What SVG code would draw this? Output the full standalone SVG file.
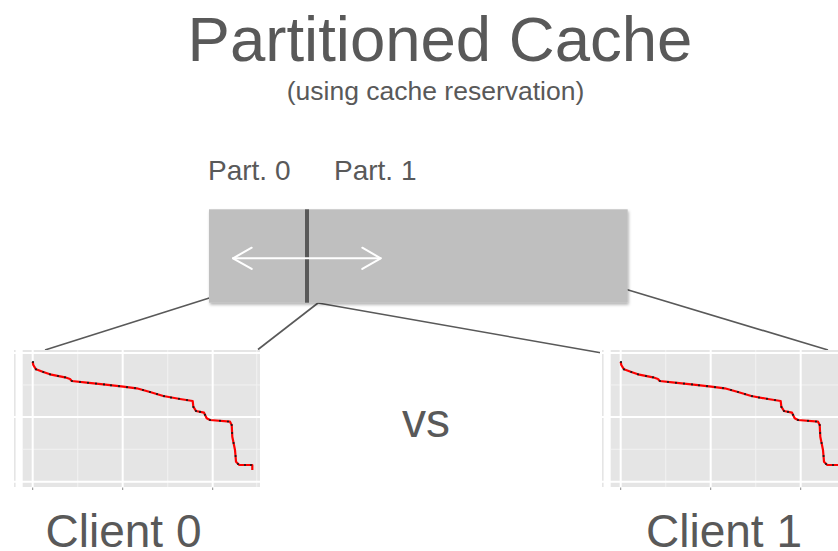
<svg xmlns="http://www.w3.org/2000/svg" xmlns:xlink="http://www.w3.org/1999/xlink" width="838" height="551" viewBox="0 0 838 551">
  <style>
    .label { font-family: "Liberation Sans", Arial, sans-serif; fill: #595959; }
    .link { stroke: #595959; stroke-width: 1.6; fill: none; }
    .panel { fill: #e5e5e5; }
    .major { stroke: #ffffff; stroke-width: 2; }
    .minor { stroke: #f2f2f2; stroke-width: 1; }
    .tick { stroke: #8c8c8c; stroke-width: 1; }
    .curve { stroke: #ff0000; stroke-width: 2.2; fill: none; stroke-linejoin: round; }
    .pt { fill: #1a1a1a; }
    .arrow { stroke: #ffffff; stroke-width: 2; fill: none; stroke-linecap: round; stroke-linejoin: round; }
  </style>
  <defs>
    <filter id="shadow" x="-5%" y="-10%" width="110%" height="125%">
      <feDropShadow dx="1" dy="2" stdDeviation="1.5" flood-color="#000000" flood-opacity="0.3"/>
    </filter>
    <!-- Miss-ratio style chart, drawn once and reused for both clients -->
    <g id="chart">
      <rect x="14" y="350" width="1.6" height="137" fill="#e5e5e5"/>
      <rect class="panel" x="22.7" y="350" width="237.3" height="137"/>
      <line class="minor" x1="22.7" y1="385" x2="260" y2="385"/>
      <line class="minor" x1="22.7" y1="449.3" x2="260" y2="449.3"/>
      <line class="minor" x1="77.7" y1="350" x2="77.7" y2="487"/>
      <line class="minor" x1="167.7" y1="350" x2="167.7" y2="487"/>
      <line class="minor" x1="256.7" y1="350" x2="256.7" y2="487"/>
      <line class="major" x1="12" y1="353" x2="260" y2="353"/>
      <line class="major" x1="12" y1="417" x2="260" y2="417"/>
      <line class="major" x1="12" y1="481.7" x2="260" y2="481.7"/>
      <line class="major" x1="32.7" y1="350" x2="32.7" y2="487"/>
      <line class="major" x1="122.7" y1="350" x2="122.7" y2="487"/>
      <line class="major" x1="212.7" y1="350" x2="212.7" y2="487"/>
      <line class="tick" x1="32.7" y1="487.5" x2="32.7" y2="490"/>
      <line class="tick" x1="122.7" y1="487.5" x2="122.7" y2="490"/>
      <line class="tick" x1="212.7" y1="487.5" x2="212.7" y2="490"/>
      <polyline class="curve" points="32.7,361.7 33.3,365 36,369.3 43.3,372 50,374.3 65,377.3 70,379 71.7,381 86.7,382.7 103.3,384.3 123.3,386.7 136.7,388.3 150,392 163.3,396 180,399 192.7,401 193.3,406.7 196,411 204,412.7 206.7,418.3 210,420 230,421.7 231.7,425 232.3,436.7 235,450 236,461.7 239.3,465 252.3,465 252.3,470"/>
      <g class="pt">
        <circle cx="33" cy="362" r="1.1"/><circle cx="36" cy="369.3" r="1.1"/>
        <circle cx="43.3" cy="372" r="1.1"/><circle cx="50" cy="374.3" r="1.1"/>
        <circle cx="58" cy="376" r="1.1"/><circle cx="65" cy="377.3" r="1.1"/>
        <circle cx="72" cy="381" r="1.1"/><circle cx="80" cy="382" r="1.1"/>
        <circle cx="88" cy="382.8" r="1.1"/><circle cx="96" cy="383.6" r="1.1"/>
        <circle cx="104" cy="384.4" r="1.1"/><circle cx="111" cy="385.3" r="1.1"/>
        <circle cx="119" cy="386.2" r="1.1"/><circle cx="127" cy="387.2" r="1.1"/>
        <circle cx="135" cy="388.1" r="1.1"/><circle cx="143" cy="390" r="1.1"/>
        <circle cx="150" cy="392" r="1.1"/><circle cx="157" cy="394.1" r="1.1"/>
        <circle cx="164" cy="396.2" r="1.1"/><circle cx="171" cy="397.6" r="1.1"/>
        <circle cx="179" cy="398.8" r="1.1"/><circle cx="187" cy="400.1" r="1.1"/>
        <circle cx="193.4" cy="407" r="1.1"/><circle cx="196" cy="411" r="1.1"/>
        <circle cx="200" cy="411.9" r="1.1"/><circle cx="205" cy="414.8" r="1.1"/>
        <circle cx="210" cy="420" r="1.1"/><circle cx="220" cy="420.8" r="1.1"/>
        <circle cx="228" cy="421.5" r="1.1"/><circle cx="231.7" cy="425" r="1.1"/>
        <circle cx="232.1" cy="433" r="1.1"/><circle cx="233.6" cy="443" r="1.1"/>
        <circle cx="235.6" cy="456" r="1.1"/><circle cx="238" cy="464" r="1.1"/>
        <circle cx="245" cy="465" r="1.1"/><circle cx="251" cy="465" r="1.1"/>
      </g>
    </g>
  </defs>

  <rect width="838" height="551" fill="#ffffff"/>

  <g id="title">
    <text class="label" x="440" y="60.5" font-size="63.5" text-anchor="middle">Partitioned Cache</text>
    <text class="label" x="435.5" y="99.5" font-size="26.5" text-anchor="middle">(using cache reservation)</text>
  </g>

  <!-- connectors from the cache to each client's chart -->
  <g id="connectors">
    <line class="link" x1="214" y1="296.5" x2="45" y2="350"/>
    <line class="link" x1="318" y1="303" x2="258" y2="349.5"/>
    <line class="link" x1="318" y1="303" x2="602" y2="353"/>
    <line class="link" x1="620" y1="287.6" x2="828" y2="350"/>
  </g>

  <g id="cache">
    <text class="label" x="208" y="180" font-size="28">Part. 0</text>
    <text class="label" x="334" y="180" font-size="28">Part. 1</text>
    <rect x="209" y="209.3" width="418.7" height="93.4" fill="#bfbfbf" filter="url(#shadow)"/>
    <line x1="307" y1="209.3" x2="307" y2="302.7" stroke="#595959" stroke-width="4"/>
    <line class="arrow" x1="233" y1="258.3" x2="380.7" y2="258.3"/>
    <polyline class="arrow" points="251.7,247.7 233,258.3 251.7,268.9"/>
    <polyline class="arrow" points="362.3,247.7 380.7,258.3 362.3,268.9"/>
  </g>

  <g id="client0">
    <use xlink:href="#chart"/>
    <text class="label" x="45.5" y="547" font-size="46">Client 0</text>
  </g>

  <g id="versus">
    <text class="label" x="402" y="436.5" font-size="48">vs</text>
  </g>

  <g id="client1">
    <use xlink:href="#chart" transform="translate(588,0)"/>
    <text class="label" x="646" y="547" font-size="46">Client 1</text>
  </g>
</svg>
